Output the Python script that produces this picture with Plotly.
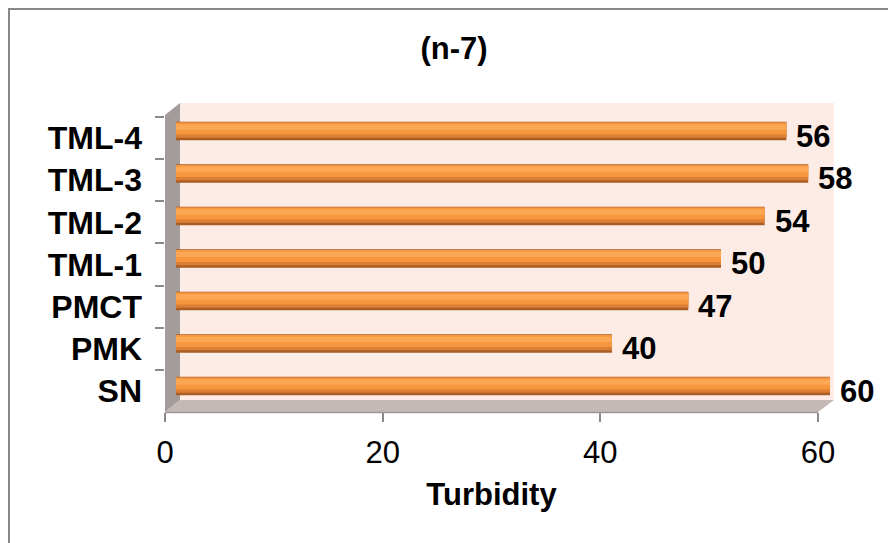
import plotly.graph_objects as go

# Turbidity per sample (bottom to top on the chart)
categories = ["SN", "PMK", "PMCT", "TML-1", "TML-2", "TML-3", "TML-4"]
turbidity = [60, 40, 47, 50, 54, 58, 56]
x_ticks = [0, 20, 40, 60]

W, H = 888, 543
FONT = "Liberation Sans, Arial, sans-serif"


def px(x):
    return x / W


def py(y):
    return 1 - y / H


def path(points):
    return "M " + " L ".join(f"{px(x):.5f},{py(y):.5f}" for x, y in points) + " Z"


fig = go.Figure()

# Cylinder look: dark underside, orange body and a light highlight near the top
layers = [
    dict(color="#a95e26", width=0.44, offset=-0.22),
    dict(color="#dc7e34", width=0.36, offset=-0.16),
    dict(color="#f6963f", width=0.28, offset=-0.08),
    dict(color="#fba753", width=0.13, offset=0.03),
]
for ly in layers:
    fig.add_trace(go.Bar(
        x=turbidity, y=categories, orientation="h",
        marker=dict(color=ly["color"], line=dict(width=0)),
        width=ly["width"], offset=ly["offset"],
        hoverinfo="skip", showlegend=False,
        xaxis="x", yaxis="y",
    ))

# Front-plane axis (ticks and category labels)
fig.add_trace(go.Scatter(
    x=turbidity, y=categories, mode="none",
    xaxis="x2", yaxis="y2", hoverinfo="skip", showlegend=False,
))

# Value labels at the end of each bar
for cat, val in zip(categories, turbidity):
    fig.add_annotation(
        x=val, y=cat, xref="x", yref="y", text=str(val),
        xanchor="left", yanchor="middle", xshift=8, yshift=-5,
        showarrow=False, font=dict(family=FONT, size=31, color="black", weight="bold"),
    )

# Back wall, side wall and floor of the 3-D frame
shapes = [
    dict(type="path", path=path([(180, 103), (834, 103), (834, 400), (180, 400)]),
         fillcolor="#fdece5", line=dict(width=0)),
    dict(type="path", path=path([(165, 412), (818, 412), (834, 400), (180, 400)]),
         fillcolor="#c3b9b5", line=dict(width=0)),
    dict(type="path", path=path([(165, 115), (180, 103), (180, 400), (165, 412)]),
         fillcolor="#a39c9a", line=dict(width=0)),
    dict(type="line", x0=px(165), x1=px(818), y0=py(412.5), y1=py(412.5),
         line=dict(color="#9e9794", width=1.5)),
]
for s in shapes:
    s.update(xref="paper", yref="paper", layer="below")
    fig.add_shape(**s)

# Chart border
fig.add_shape(type="rect", xref="paper", yref="paper",
              x0=px(9), x1=1.05, y0=-0.05, y1=py(9),
              line=dict(color="#878787", width=2), fillcolor="rgba(0,0,0,0)")

fig.update_layout(
    width=W, height=H,
    margin=dict(l=0, r=0, t=0, b=0),
    paper_bgcolor="white", plot_bgcolor="rgba(0,0,0,0)",
    barmode="overlay",
    title=dict(text="(n-7)", x=px(454), y=py(48), xanchor="center", yanchor="middle",
               font=dict(family=FONT, size=31, color="black", weight="bold")),
    xaxis=dict(domain=[px(176), px(830)], range=[0, 60], visible=False,
               fixedrange=True),
    yaxis=dict(domain=[py(407.25), py(109.75)], range=[-0.5, 6.5], visible=False,
               type="category", categoryorder="array", categoryarray=categories),
    xaxis2=dict(domain=[px(165), px(818)], range=[0, 60], anchor="y2",
                tickvals=x_ticks, ticks="outside", ticklen=9, tickcolor="#8a8a8a",
                tickwidth=1.5, showgrid=False, zeroline=False, showline=False,
                ticklabelstandoff=4,
                tickfont=dict(family=FONT, size=31, color="black"),
                title=dict(text="Turbidity", standoff=14,
                           font=dict(family=FONT, size=31, color="black", weight="bold")),
                automargin=False),
    yaxis2=dict(domain=[py(412), py(117)], range=[-0.5, 6.5], anchor="x2",
                type="category", categoryorder="array", categoryarray=categories,
                tickson="boundaries", ticks="outside", ticklen=9, tickcolor="#8a8a8a",
                tickwidth=1.5, showgrid=False, zeroline=False, showline=False,
                ticklabelstandoff=22,
                tickfont=dict(family=FONT, size=32, color="black", weight="bold"),
                automargin=False),
)

fig.write_html("out.html")
